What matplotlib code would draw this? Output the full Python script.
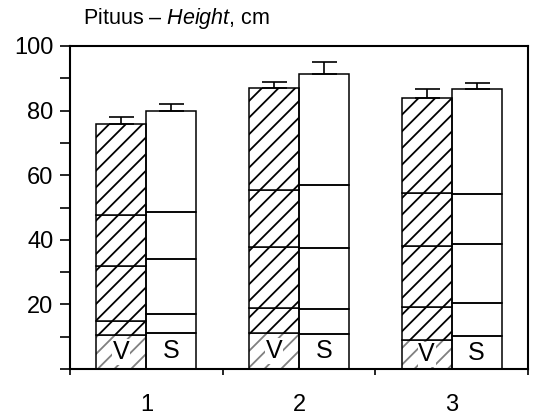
import numpy as np
import matplotlib.pyplot as plt
from matplotlib.ticker import MultipleLocator

plt.rcParams['font.family'] = ['Liberation Sans', 'DejaVu Sans']
plt.rcParams['mathtext.fontset'] = 'custom'
plt.rcParams['mathtext.rm'] = 'Liberation Sans'
plt.rcParams['mathtext.it'] = 'Liberation Sans:italic'
plt.rcParams['hatch.linewidth'] = 1.3

groups = ['1', '2', '3']
# segment boundaries (cm) inside each bar, bottom to top; last value = bar height
v_bounds = [[10.5, 15, 32, 47.6, 76],
            [11, 18.9, 37.8, 55.4, 87],
            [9.1, 19.3, 38.1, 54.4, 84]]
s_bounds = [[11, 17, 34, 48.7, 80],
            [10.9, 18.7, 37.5, 57, 91.4],
            [10.2, 20.5, 38.8, 54.3, 86.6]]
v_err = [2, 2, 2.6]
s_err = [2, 3.6, 2]

x = np.arange(1, len(groups) + 1)
w = 0.327

fig = plt.figure(figsize=(5.36, 4.2), dpi=100)
ax = fig.add_axes([0.1306, 0.1214, 0.8544, 0.7691])


def draw_bar(xpos, bounds, hatched, letter):
    bottoms = [0] + bounds[:-1]
    heights = np.diff([0] + bounds)
    for i, (b, h) in enumerate(zip(bottoms, heights)):
        if hatched:
            hc = '0.5' if i == 0 else 'black'
            ax.bar(xpos, h, w, bottom=b, color='white', edgecolor=hc,
                   hatch='//', linewidth=0)
        ax.bar(xpos, h, w, bottom=b, fill=False, edgecolor='black',
               linewidth=1.1)
    ax.text(xpos, bounds[0] / 2, letter, ha='center', va='center',
            fontsize=18, zorder=5,
            bbox=dict(facecolor='white', edgecolor='none', pad=0.5) if hatched else None)


for i in range(len(groups)):
    draw_bar(x[i] - w / 2, v_bounds[i], True, 'V')
    draw_bar(x[i] + w / 2, s_bounds[i], False, 'S')

v_tops = [b[-1] for b in v_bounds]
s_tops = [b[-1] for b in s_bounds]
ax.errorbar(x - w / 2, v_tops, yerr=[np.zeros(3), v_err], fmt='none',
            ecolor='black', elinewidth=1.2, capsize=9, capthick=1.2)
ax.errorbar(x + w / 2, s_tops, yerr=[np.zeros(3), s_err], fmt='none',
            ecolor='black', elinewidth=1.2, capsize=9, capthick=1.2)

ax.set_xlim(0.5, 3.5)
ax.set_ylim(0, 100)
ax.set_xticks(x)
ax.set_xticklabels(groups)
ax.xaxis.set_minor_locator(MultipleLocator(1, offset=0.5))
ax.tick_params(axis='x', which='major', length=0, pad=18, labelsize=17)
ax.tick_params(axis='x', which='minor', length=4, width=1.2, direction='out')
ax.set_yticks([20, 40, 60, 80, 100])
ax.yaxis.set_minor_locator(MultipleLocator(10))
ax.tick_params(axis='y', which='both', length=7, width=1.2, direction='out',
               labelsize=17, pad=5)
for s in ax.spines.values():
    s.set_linewidth(1.5)

fig.text(0.155, 0.957, r'Pituus – $\it{Height}$, cm', fontsize=15.5,
         ha='left', va='center')

fig.savefig('out.png', dpi=100)
